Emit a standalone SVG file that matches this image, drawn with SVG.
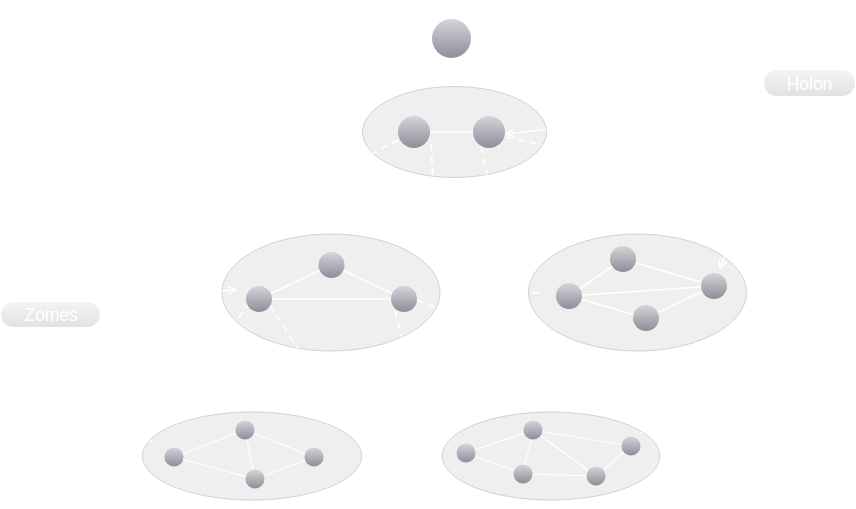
<svg xmlns="http://www.w3.org/2000/svg" width="856" height="509" viewBox="0 0 856 509">
<defs>
<linearGradient id="ng" x1="0" y1="0" x2="0" y2="1">
<stop offset="0" stop-color="#d4d4d9"/>
<stop offset="1" stop-color="#8e8e9a"/>
</linearGradient>
<linearGradient id="pg" x1="0" y1="0" x2="0" y2="1">
<stop offset="0" stop-color="#f4f4f5"/>
<stop offset="1" stop-color="#e2e2e4"/>
</linearGradient>
<clipPath id="c0"><ellipse cx="454.5" cy="132" rx="92" ry="45.5"/></clipPath>
<clipPath id="c1"><ellipse cx="331" cy="292.5" rx="109" ry="58.5"/></clipPath>
<clipPath id="c2"><ellipse cx="637.5" cy="292.5" rx="109" ry="58.5"/></clipPath>
<clipPath id="c3"><ellipse cx="252" cy="456" rx="109.5" ry="44"/></clipPath>
<clipPath id="c4"><ellipse cx="551" cy="456" rx="109" ry="44"/></clipPath>
<marker id="ah" viewBox="0 0 10 10" refX="9" refY="5" markerWidth="10" markerHeight="10" markerUnits="userSpaceOnUse" orient="auto">
<path d="M1,1 L9,5 L1,9" fill="none" stroke="#ffffff" stroke-width="1.6"/>
</marker>
</defs>
<style>
.zone{fill:#efefef;stroke:#d2d2d2;stroke-width:1}
.n{fill:url(#ng)}
.e{stroke:#ffffff;stroke-width:1.6;fill:none}
.es{stroke:#ffffff;stroke-width:1.1;fill:none}
.d{stroke:#ffffff;stroke-width:1.6;fill:none;stroke-dasharray:7 5}
.pill{fill:url(#pg)}
.lbl{font-family:"Liberation Sans",Arial,sans-serif;font-size:17.5px;fill:#ffffff;text-anchor:middle}
</style>

<g id="zone-top"><ellipse class="zone" cx="454.5" cy="132" rx="92" ry="45.5"/></g>
<g id="zone-mid-left"><ellipse class="zone" cx="331" cy="292.5" rx="109" ry="58.5"/></g>
<g id="zone-mid-right"><ellipse class="zone" cx="637.5" cy="292.5" rx="109" ry="58.5"/></g>
<g id="zone-bottom-left"><ellipse class="zone" cx="252" cy="456" rx="109.5" ry="44"/></g>
<g id="zone-bottom-right"><ellipse class="zone" cx="551" cy="456" rx="109" ry="44"/></g>

<g id="connectors">
<g clip-path="url(#c0)">
<line class="e" x1="414" y1="132" x2="489" y2="132"/>
<line class="e" x1="550" y1="129" x2="506" y2="134" marker-end="url(#ah)"/>
<line class="d" x1="398" y1="140" x2="360" y2="160"/>
<line class="d" x1="431" y1="144" x2="433" y2="180"/>
<line class="d" x1="481" y1="147" x2="488" y2="180"/>
<line class="d" x1="506" y1="137" x2="550" y2="147"/>
</g>
<g clip-path="url(#c1)">
<line class="e" x1="259" y1="299" x2="331.5" y2="265"/>
<line class="e" x1="331.5" y1="265" x2="404" y2="299"/>
<line class="e" x1="259" y1="299" x2="404" y2="299"/>
<line class="e" x1="218" y1="291" x2="236" y2="290" marker-end="url(#ah)"/>
<line class="d" x1="270" y1="305" x2="302" y2="355"/>
<line class="d" x1="250" y1="302" x2="230" y2="330"/>
<line class="d" x1="395" y1="311" x2="404" y2="345"/>
<line class="d" x1="417" y1="300" x2="445" y2="312"/>
</g>
<g clip-path="url(#c2)">
<line class="e" x1="569" y1="296" x2="623" y2="259"/>
<line class="e" x1="623" y1="259" x2="714" y2="286"/>
<line class="e" x1="569" y1="296" x2="714" y2="286"/>
<line class="e" x1="569" y1="296" x2="646" y2="318"/>
<line class="e" x1="646" y1="318" x2="714" y2="286"/>
<line class="e" x1="728" y1="246" x2="720" y2="268" marker-end="url(#ah)"/>
<line class="d" x1="520" y1="292" x2="540" y2="293"/>
</g>
<g clip-path="url(#c3)">
<line class="es" x1="174" y1="457" x2="245" y2="430"/>
<line class="es" x1="245" y1="430" x2="314" y2="457"/>
<line class="es" x1="245" y1="430" x2="255" y2="479"/>
<line class="es" x1="174" y1="457" x2="255" y2="479"/>
<line class="es" x1="255" y1="479" x2="314" y2="457"/>
<line class="d" x1="152" y1="442" x2="135" y2="432"/>
</g>
<g clip-path="url(#c4)">
<line class="es" x1="466" y1="453" x2="533" y2="430"/>
<line class="es" x1="533" y1="430" x2="523" y2="474"/>
<line class="es" x1="533" y1="430" x2="631" y2="446"/>
<line class="es" x1="533" y1="430" x2="596" y2="476"/>
<line class="es" x1="523" y1="474" x2="596" y2="476"/>
<line class="es" x1="596" y1="476" x2="631" y2="446"/>
<line class="es" x1="466" y1="453" x2="523" y2="474"/>
<line class="d" x1="640" y1="433" x2="665" y2="425"/>
</g>
</g>

<g id="node-holon"><circle class="n" cx="451.5" cy="38.5" r="19.5"/></g>
<g id="node-t1"><circle class="n" cx="414" cy="132" r="16"/></g>
<g id="node-t2"><circle class="n" cx="489" cy="132" r="16"/></g>
<g id="node-ml1"><circle class="n" cx="331.5" cy="265" r="13"/></g>
<g id="node-ml2"><circle class="n" cx="259" cy="299" r="13"/></g>
<g id="node-ml3"><circle class="n" cx="404" cy="299" r="13"/></g>
<g id="node-mr1"><circle class="n" cx="623" cy="259" r="13"/></g>
<g id="node-mr2"><circle class="n" cx="569" cy="296" r="13"/></g>
<g id="node-mr3"><circle class="n" cx="714" cy="286" r="13"/></g>
<g id="node-mr4"><circle class="n" cx="646" cy="318" r="13"/></g>
<g id="node-bl1"><circle class="n" cx="245" cy="430" r="9.5"/></g>
<g id="node-bl2"><circle class="n" cx="174" cy="457" r="9.5"/></g>
<g id="node-bl3"><circle class="n" cx="314" cy="457" r="9.5"/></g>
<g id="node-bl4"><circle class="n" cx="255" cy="479" r="9.5"/></g>
<g id="node-br1"><circle class="n" cx="533" cy="430" r="9.5"/></g>
<g id="node-br2"><circle class="n" cx="466" cy="453" r="9.5"/></g>
<g id="node-br3"><circle class="n" cx="631" cy="446" r="9.5"/></g>
<g id="node-br4"><circle class="n" cx="523" cy="474" r="9.5"/></g>
<g id="node-br5"><circle class="n" cx="596" cy="476" r="9.5"/></g>

<g id="label-holon">
<rect class="pill" x="764" y="70" width="91" height="26" rx="13"/>
<text class="lbl" x="809.5" y="89.5">Holon</text>
</g>
<g id="label-zomes">
<rect class="pill" x="1" y="302" width="99" height="25" rx="12.5"/>
<text class="lbl" x="51" y="320.5">Zomes</text>
</g>
</svg>
